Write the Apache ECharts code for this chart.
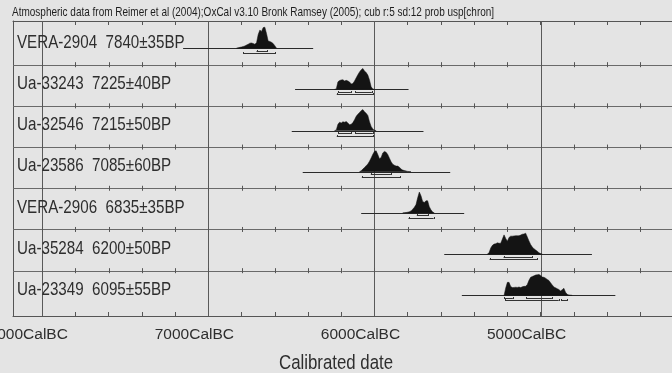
<!DOCTYPE html>
<html>
<head>
<meta charset="utf-8">
<script src="https://cdn.jsdelivr.net/npm/echarts@6/dist/echarts.min.js"></script>
<style>
html, body { margin: 0; padding: 0; background: #e4e4e4; }
#chart { width: 672px; height: 373px; }
</style>
</head>
<body>
<div id="chart"></div>
<script>
// 样本名称
var sampleNames = ['VERA-2904  7840±35BP', 'Ua-33243  7225±40BP', 'Ua-32546  7215±50BP', 'Ua-23586  7085±60BP',
	'VERA-2906  6835±35BP', 'Ua-35284  6200±50BP', 'Ua-23349  6095±55BP']
// 概率分布 (CalBC), 从起点起每10年一个值
var distStart = [6830, 6240, 6240, 6090, 5830, 5320, 5220]
var distStep = 10
var probVera2904 = [0, .02, .04, .06, .08, .11, .15, .19, .24, .25, .22, .19, .26, .65, .86, .80, .98, 1.0, .70, .34, .32, .28, .22, .12, 0]
var probUa33243 = [0, .02, .36, .42, .45, .46, .40, .43, .40, .35, .26, .28, .40, .55, .70, .83, .93, 1.0, .88, .80, .68, .45, .12, .02, 0]
var probUa32546 = [0, .03, .30, .40, .36, .42, .40, .43, .36, .28, .30, .38, .52, .68, .78, .86, .95, 1.0, .90, .82, .72, .42, .20, .08, .02, 0]
var probUa23586 = [0, .05, .13, .20, .29, .37, .50, .66, .83, .97, 1.0, .82, .62, .68, .90, .97, .93, .82, .65, .48, .36, .31, .27, .27, .22, .13, .08, .06, .04, .02, .01, 0]
var probVera2906 = [0, .01, .02, .04, .06, .10, .18, .27, .40, .72, 1.0, .82, .55, .50, .58, .58, .30, .15, .05, 0]
var probUa35284 = [0, .08, .30, .42, .48, .50, .54, .52, .52, .72, .92, .75, .62, .80, .86, .86, .87, .88, .88, .88, .91, .95, .96, 1.0, .82, .63, .46, .34, .26, .20, .14, .07, .03, 0]
var probUa23349 = [0, .35, .62, .62, .42, .37, .38, .39, .38, .40, .37, .41, .43, .43, .52, .72, .86, .90, .93, .97, .98, 1.0, .95, .88, .86, .82, .76, .71, .60, .50, .40, .36, .32, .28, .21, .27, .34, .15, .05, .02, .01, 0]
var probs = [probVera2904, probUa33243, probUa32546, probUa23586, probVera2906, probUa35284, probUa23349]
// 基线范围
var spans = [[7152, 6369], [6478, 5795], [6498, 5705], [6432, 5544], [6080, 5460], [5580, 4691], [5474, 4550]]
// 68.2% / 95.4% 区间
var range68 = [[[6710, 6645]], [[6220, 6142], [6116, 6016]], [[6217, 6140], [6116, 6010]], [[6022, 5901]],
	[[5745, 5675]], [[5223, 5052]], [[5219, 5167], [5086, 4932]]]
var range95 = [[[6790, 6598]], [[6227, 6006]], [[6227, 6006]], [[6076, 5845]],
	[[5795, 5644]], [[5307, 5022]], [[5213, 4891], [4877, 4841]]]
// 刻度
var tickYears = [4400, 4600, 4800, 5000, 5200, 5400, 5600, 5800, 6000, 6200, 6400, 6600, 6800, 7000, 7200, 7400, 7600, 7800, 8000]
var labelYears = [5000, 6000, 7000, 8000]

var X_MIN = 4209, X_MAX = 8176, Y_MAX = 7.16
var PEAK = 0.51
var FONT = "'Liberation Sans', Arial, sans-serif"
var SQUEEZE = 0.82

function rowBase(i) {
	return sampleNames.length - 0.5 - i
}
function px(v) {
	return Math.round(v) + 0.5
}
function hline(a, b, color) {
	return { type: 'line', shape: { x1: a[0], y1: px(a[1]), x2: b[0], y2: px(a[1]) }, style: { stroke: color, lineWidth: 1 } }
}

// 分隔线和竖线
function renderRules(params, api) {
	var cs = params.coordSys
	var children = []
	labelYears.forEach(function (yr) {
		var t = api.coord([yr, Y_MAX]), b = api.coord([yr, 0])
		children.push({ type: 'line', shape: { x1: px(t[0]), y1: t[1], x2: px(b[0]), y2: b[1] }, style: { stroke: '#5a5a5a', lineWidth: 1 } })
	})
	for (var i = 1; i < sampleNames.length; i++) {
		var y = api.coord([X_MIN, rowBase(i) + 0.6])[1]
		children.push(hline([cs.x, y], [cs.x + cs.width, y], '#6a6a6a'))
		tickYears.forEach(function (yr) {
			var p = api.coord([yr, rowBase(i) + 0.6])
			children.push({ type: 'line', shape: { x1: px(p[0]), y1: p[1] - 2.5, x2: px(p[0]), y2: p[1] + 2.5 }, style: { stroke: '#555', lineWidth: 1 } })
		})
	}
	return { type: 'group', children: children }
}

// 每个样本的分布
function renderSample(params, api) {
	var i = api.value(2)
	var base = rowBase(i)
	var children = []
	var s0 = api.coord([spans[i][0], base]), s1 = api.coord([spans[i][1], base])
	children.push(hline(s0, s1, '#2a2a2a'))
	var d = probs[i]
	var pts = [api.coord([distStart[i], base])]
	for (var k = 0; k < d.length; k++) {
		pts.push(api.coord([distStart[i] - k * distStep, base + d[k] * PEAK]))
	}
	pts.push(api.coord([distStart[i] - (d.length - 1) * distStep, base]))
	children.push({ type: 'polygon', shape: { points: pts }, style: { fill: '#141414', stroke: '#141414', lineWidth: 0.5 } })
	function bracket(list, dy) {
		list.forEach(function (r) {
			var a = api.coord([r[0], base]), b = api.coord([r[1], base])
			var y = px(a[1] + dy)
			children.push({ type: 'line', shape: { x1: a[0], y1: y, x2: b[0], y2: y }, style: { stroke: '#333', lineWidth: 1 } })
			children.push({ type: 'line', shape: { x1: px(a[0]), y1: y - 1.5, x2: px(a[0]), y2: y + 0.5 }, style: { stroke: '#333', lineWidth: 1 } })
			children.push({ type: 'line', shape: { x1: px(b[0]), y1: y - 1.5, x2: px(b[0]), y2: y + 0.5 }, style: { stroke: '#333', lineWidth: 1 } })
		})
	}
	bracket(range68[i], 2.5)
	bracket(range95[i], 5)
	children.push({
		type: 'text',
		x: params.coordSys.x + 4,
		y: s0[1] - 5.5,
		scaleX: SQUEEZE,
		style: { text: sampleNames[i], x: 0, y: 0, fill: '#2e2e2e', font: '18.5px ' + FONT, verticalAlign: 'middle', align: 'left' }
	})
	return { type: 'group', children: children }
}

var chart = echarts.init(document.getElementById('chart'))
var axisCommon = {
	type: 'value',
	inverse: true,
	min: X_MIN,
	max: X_MAX,
	splitLine: { show: false },
	axisLine: { show: true, lineStyle: { color: '#555', width: 1 } },
	axisTick: { show: true, inside: true, length: 4, customValues: tickYears, lineStyle: { color: '#555' } }
}
chart.setOption({
	backgroundColor: '#e4e4e4',
	animation: false,
	graphic: [{
		type: 'text',
		x: 12,
		y: 13,
		scaleX: SQUEEZE,
		style: {
			text: 'Atmospheric data from Reimer et al (2004);OxCal v3.10 Bronk Ramsey (2005); cub r:5 sd:12 prob usp[chron]',
			font: '12.2px ' + FONT, fill: '#1e1e1e', align: 'left', verticalAlign: 'middle'
		}
	}, {
		type: 'text',
		x: 336,
		y: 363,
		scaleX: SQUEEZE,
		style: { text: 'Calibrated date', font: '20.5px ' + FONT, fill: '#2e2e2e', align: 'center', verticalAlign: 'middle' }
	}],
	grid: { left: 13, right: 0, top: 21, bottom: 57, containLabel: false, outerBoundsMode: 'none' },
	xAxis: [
		Object.assign({}, axisCommon, {
			position: 'bottom',
			axisLabel: {
				show: true,
				customValues: labelYears,
				formatter: function (v) { return v + 'CalBC' },
				margin: 11,
				padding: [0, 28, 0, 0],
				color: '#2e2e2e',
				fontFamily: FONT,
				fontSize: 15.5
			}
		}),
		Object.assign({}, axisCommon, { position: 'top', axisLabel: { show: false } })
	],
	yAxis: {
		type: 'value',
		min: 0,
		max: Y_MAX,
		splitLine: { show: false },
		axisTick: { show: false },
		axisLabel: { show: false },
		axisLine: { show: true, lineStyle: { color: '#555' } }
	},
	series: [
		{
			type: 'custom',
			renderItem: renderRules,
			data: [[6000, 3, 0]],
			silent: true,
			z: 1
		},
		{
			type: 'custom',
			renderItem: renderSample,
			data: sampleNames.map(function (n, i) { return [distStart[i], rowBase(i), i] }),
			silent: true,
			z: 2
		}
	]
})
</script>
</body>
</html>
